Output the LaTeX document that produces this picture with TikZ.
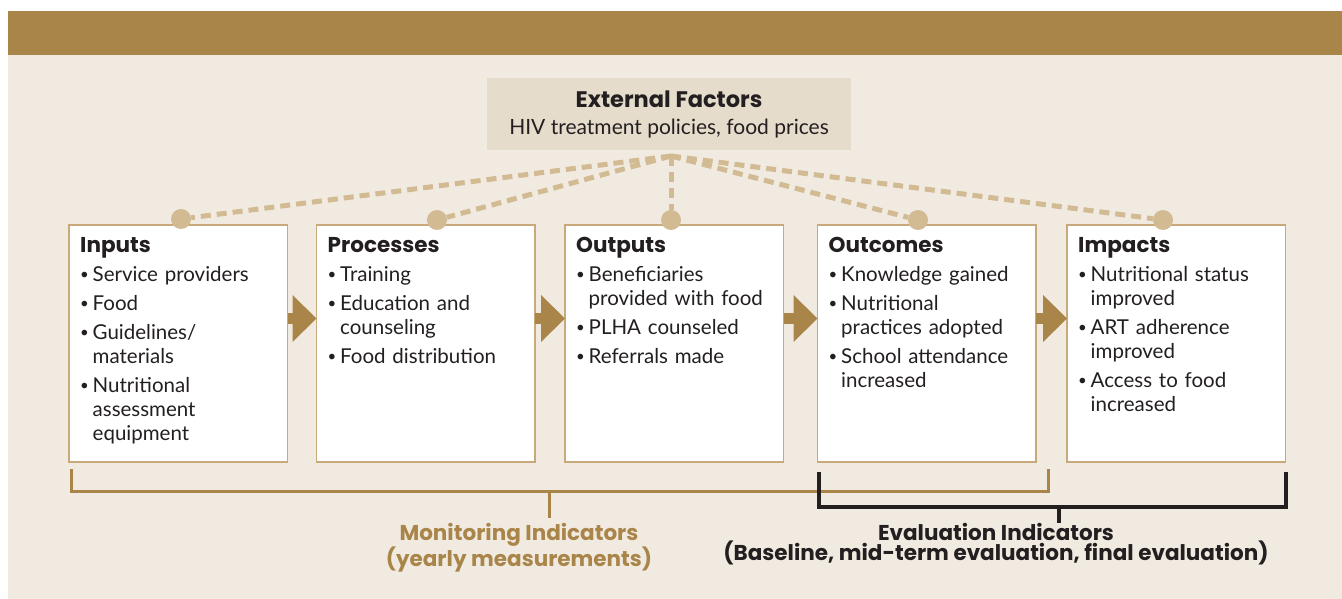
\documentclass[tikz,border=0pt]{standalone}
\usepackage{fontspec}
\setmainfont{Lato}
\newfontfamily\headfont{Poppins}
\usepackage{xcolor}
\usetikzlibrary{arrows.meta, positioning, calc}

\definecolor{bandbrown}{HTML}{A98549}
\definecolor{pagebeige}{HTML}{F1EAE1}
\definecolor{extbeige}{HTML}{E5DCCB}
\definecolor{dotbeige}{HTML}{D2BA93}
\definecolor{boxline}{HTML}{C9A97A}
\definecolor{inkblack}{HTML}{231F20}

\newcommand{\bitem}[1]{\hangindent=12.5pt\hangafter=1\noindent\makebox[12.5pt][l]{\raisebox{1.6pt}{\fontsize{15}{15}\selectfont\textbullet}}#1\par}
\newcommand{\stagetitle}[1]{{\fontsize{21.5}{24}\selectfont\headfont\bfseries #1}\par}

\begin{document}
\begin{tikzpicture}[
    x=1pt, y=-1pt,
    node distance=30pt,
    stage/.style={rectangle, draw=boxline, fill=white, line width=1.2pt, outer sep=0pt, minimum width=218.5pt, minimum height=237pt, inner sep=0pt},
    stagetext/.style={anchor=north west, text width=205pt, align=left, inner sep=0pt, text=inkblack, font=\fontsize{20.5}{24}\selectfont\setlength{\parskip}{5pt}},
    factor/.style={rectangle, fill=extbeige, minimum width=364pt, minimum height=72pt, align=center, text=inkblack, font=\fontsize{21}{27}\selectfont},
    dot/.style={circle, fill=dotbeige, minimum size=20pt, inner sep=0pt},
    link/.style={draw=dotbeige, line width=5pt, dash pattern=on 10pt off 6pt},
    flow/.style={-{Triangle[length=24pt, width=47pt, line width=0pt]}, line width=11pt, draw=bandbrown},
    monbrace/.style={draw=bandbrown, line width=3pt},
    evalbrace/.style={draw=inkblack, line width=3.2pt},
    bracelabel/.style={anchor=north, align=center, inner sep=0pt, font=\fontsize{21.5}{20.5}\selectfont\headfont\bfseries}
]
    % Page and top band
    \useasboundingbox (0,0) rectangle (1342,599);
    \fill[pagebeige] (8,55) rectangle (1342,599);
    \fill[bandbrown] (8,11) rectangle (1342,55);

    % External factors
    \node[factor] (factors) at (669,114) {{\headfont\bfseries\fontsize{22.5}{27}\selectfont External Factors}\\HIV treatment policies, food prices};

    % Stages
    \node[stage, anchor=north west] (inputs) at (69,225) {};
    \node[stage, right=29pt of inputs] (processes) {};
    \node[stage, right=30pt of processes] (outputs) {};
    \node[stage, right=34pt of outputs] (outcomes) {};
    \node[stage, right=31pt of outcomes] (impacts) {};

    \node[stagetext] (inputs-text) at ([xshift=11pt, yshift=-12pt]inputs.north west) {\stagetitle{Inputs}
        \bitem{Service providers}
        \bitem{Food}
        \bitem{Guidelines/\newline materials}
        \bitem{Nutritional\newline assessment\newline equipment}};
    \node[stagetext] (processes-text) at ([xshift=11pt, yshift=-12pt]processes.north west) {\stagetitle{Processes}
        \bitem{Training}
        \bitem{Education and\newline counseling}
        \bitem{Food distribution}};
    \node[stagetext] (outputs-text) at ([xshift=11pt, yshift=-12pt]outputs.north west) {\stagetitle{Outputs}
        \bitem{Beneficiaries\newline provided with food}
        \bitem{PLHA counseled}
        \bitem{Referrals made}};
    \node[stagetext] (outcomes-text) at ([xshift=11pt, yshift=-12pt]outcomes.north west) {\stagetitle{Outcomes}
        \bitem{Knowledge gained}
        \bitem{Nutritional\newline practices adopted}
        \bitem{School attendance\newline increased}};
    \node[stagetext] (impacts-text) at ([xshift=11pt, yshift=-12pt]impacts.north west) {\stagetitle{Impacts}
        \bitem{Nutritional status\newline improved}
        \bitem{ART adherence\newline improved}
        \bitem{Access to food\newline increased}};

    % Dots and links to external factors
    \coordinate (apex) at (671,156);
    \node[dot] (inputs-dot) at (181,219) {};
    \node[dot] (processes-dot) at (437,220) {};
    \node[dot] (outputs-dot) at (671,220) {};
    \node[dot] (outcomes-dot) at (918,220) {};
    \node[dot] (impacts-dot) at (1163,220) {};
    \foreach \s in {inputs, processes, outputs, outcomes, impacts}
        \draw[link] (apex) -- (\s-dot);

    % Arrows
    \draw[flow] ([yshift=25pt]inputs.east) -- ([yshift=25pt]processes.west);
    \draw[flow] ([yshift=25pt]processes.east) -- ([yshift=25pt]outputs.west);
    \draw[flow] ([yshift=25pt]outputs.east) -- ([yshift=25pt]outcomes.west);
    \draw[flow] ([yshift=25pt]outcomes.east) -- ([yshift=25pt]impacts.west);

    % Monitoring bracket
    \draw[monbrace] (71,469) |- (1048,491) -- (1048,469);
    \draw[monbrace] (549,491) -- (549,518);
    \node[bracelabel, text=bandbrown] (monitoring) at (519,523) {Monitoring Indicators\\(yearly measurements)};

    % Evaluation bracket
    \draw[evalbrace] (819,472) |- (1286,507) -- (1286,472);
    \draw[evalbrace] (1059,507) -- (1059,523);
    \node[bracelabel, text=inkblack] (evaluation) at (996,523) {Evaluation Indicators\\(Baseline, mid-term evaluation, final evaluation)};
\end{tikzpicture}
\end{document}
